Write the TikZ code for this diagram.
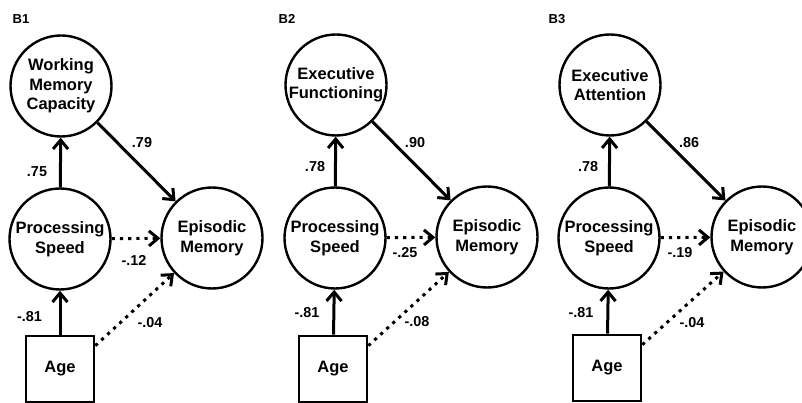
\documentclass[tikz,border=0pt]{standalone}
\usepackage{fontspec}
\setmainfont{Liberation Sans}
\usetikzlibrary{arrows.meta}
\begin{document}
\begin{tikzpicture}[x=1pt,y=-1pt,
  latent/.style={circle, draw, line width=2.4pt, minimum size=101pt, inner sep=0pt, align=center,
    font=\fontsize{16.5}{19.5}\selectfont\bfseries},
  obs/.style={rectangle, draw, line width=2.6pt, minimum width=68pt, minimum height=66pt, inner sep=0pt,
    font=\fontsize{16.5}{19.5}\selectfont\bfseries},
  pathline/.style={line width=3pt, -{Straight Barb[length=9pt,width=15pt]}},
  weakline/.style={pathline, dash pattern=on 3.2pt off 5pt},
  coef/.style={font=\fontsize{14.4}{16}\selectfont\bfseries, inner sep=0pt},
  paneltitle/.style={font=\fontsize{13}{15}\selectfont\bfseries, inner sep=0pt}]
\useasboundingbox (0,0) rectangle (802,403);
\clip (0,0) rectangle (802,403);

% ---------- B1 ----------
\node[paneltitle] (t1) at (21,19) {B1};
\node[latent] (top1) at (61,86) {Working\\Memory\\Capacity};
\node[latent] (ps1) at (60,239) {Processing\\Speed};
\node[latent] (em1) at (212,238) {Episodic\\Memory};
\node[obs] (age1) at (60,369) {Age};
\coordinate (as1) at ([yshift=-11pt]age1.north east);
\draw[pathline] (ps1) -- (top1);
\draw[pathline] (top1) -- (em1);
\draw[weakline] (ps1) -- (em1);
\draw[pathline] (age1) -- (ps1);
\draw[weakline] (as1) -- (em1);
\node[coef] (c11) at (37,172) {.75};
\node[coef] (c12) at (142,143) {.79};
\node[coef] (c13) at (134,260) {-.12};
\node[coef] (c14) at (29.5,317) {-.81};
\node[coef] (c15) at (150,323) {-.04};

% ---------- B2 ----------
\node[paneltitle] (t2) at (287,19) {B2};
\node[latent] (top2) at (336,85) {Executive\\Functioning};
\node[latent] (ps2) at (335,238) {Processing\\Speed};
\node[latent] (em2) at (487,237) {Episodic\\Memory};
\node[obs] (age2) at (333,369) {Age};
\coordinate (as2) at ([yshift=-11pt]age2.north east);
\draw[pathline] (ps2) -- (top2);
\draw[pathline] (top2) -- (em2);
\draw[weakline] (ps2) -- (em2);
\draw[pathline] (age2) -- (ps2);
\draw[weakline] (as2) -- (em2);
\node[coef] (c21) at (315,167) {.78};
\node[coef] (c22) at (415,143) {.90};
\node[coef] (c23) at (405,253) {-.25};
\node[coef] (c24) at (307,313) {-.81};
\node[coef] (c25) at (417,322) {-.08};

% ---------- B3 ----------
\node[paneltitle] (t3) at (557,19) {B3};
\node[latent] (top3) at (610,85) {Executive\\Attention};
\node[latent] (ps3) at (609,238) {Processing\\Speed};
\node[latent] (em3) at (762,237) {Episodic\\Memory};
\node[obs] (age3) at (607,368) {Age};
\coordinate (as3) at ([yshift=-11pt]age3.north east);
\draw[pathline] (ps3) -- (top3);
\draw[pathline] (top3) -- (em3);
\draw[weakline] (ps3) -- (em3);
\draw[pathline] (age3) -- (ps3);
\draw[weakline] (as3) -- (em3);
\node[coef] (c31) at (588,167) {.78};
\node[coef] (c32) at (689,143) {.86};
\node[coef] (c33) at (680,253) {-.19};
\node[coef] (c34) at (581,313) {-.81};
\node[coef] (c35) at (692,323) {-.04};
\end{tikzpicture}
\end{document}
